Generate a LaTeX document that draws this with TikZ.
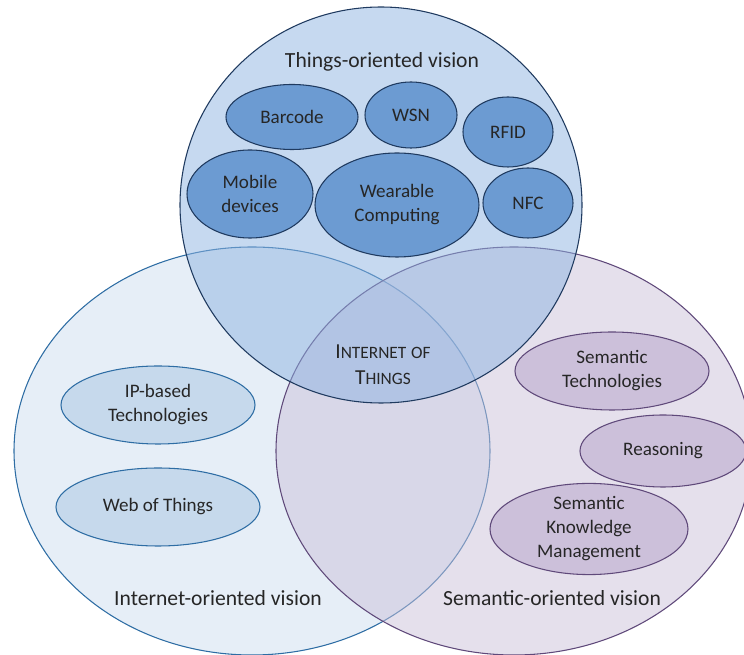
\documentclass[tikz,border=0pt]{standalone}
\usepackage{fontspec}
\setmainfont{Carlito}
\usetikzlibrary{shapes.geometric}
\definecolor{txt}{HTML}{262626}
\definecolor{topfill}{RGB}{141,179,225}
\definecolor{leftfill}{RGB}{205,221,239}
\definecolor{rightfill}{RGB}{203,193,217}
\definecolor{topdraw}{HTML}{1F3A5F}
\definecolor{leftdraw}{HTML}{2E6DA4}
\definecolor{rightdraw}{HTML}{5F497A}
\definecolor{inblue}{RGB}{108,155,210}
\definecolor{inlight}{RGB}{198,217,236}
\definecolor{inpurple}{RGB}{204,192,218}
\newcommand{\scaps}[2]{{\fontsize{16}{19.5}\selectfont #1}{\fontsize{13}{19.5}\selectfont #2}}
\newcommand{\smallcap}[1]{{\fontsize{13}{19.5}\selectfont #1}}
\tikzset{
  sz/.style 2 args={ellipse, inner sep=0pt, minimum width=#1*1.5pt, minimum height=#2*1.5pt},
  bigell/.style={ellipse, inner sep=0pt, line width=0.8pt, fill opacity=0.5},
  inell/.style={ellipse, inner sep=0pt, line width=0.8pt, align=center, text=txt,
    font=\fontsize{14.3}{18}\selectfont},
  tinner/.style={inell, draw=topdraw, fill=inblue},
  linner/.style={inell, draw=leftdraw, fill=inlight},
  rinner/.style={inell, draw=rightdraw, fill=inpurple},
  vislabel/.style={text=txt, font=\fontsize{16.2}{20}\selectfont, inner sep=0pt},
}
\begin{document}
\begin{tikzpicture}[x=0.75pt, y=-0.75pt]
\useasboundingbox (0,0) rectangle (744,655);
\clip (0,0) rectangle (744,655);
% big regions
\node[bigell, sz={238}{204}, draw=leftdraw, fill=leftfill] (internet) at (252,451) {};
\node[bigell, sz={238}{204}, draw=rightdraw, fill=rightfill] (semantic) at (514,451) {};
\node[bigell, sz={201}{198}, draw=topdraw, fill=topfill] (things) at (381,205) {};
% labels of visions
\node[vislabel] (thingslbl) at (382,62) {Things-oriented vision};
\node[vislabel] (internetlbl) at (218,598) {Internet-oriented vision};
\node[vislabel] (semanticlbl) at (552,598) {Semantic-oriented vision};
% things-oriented
\node[tinner, sz={66}{32.5}] (barcode) at (292,117) {Barcode};
\node[tinner, sz={46}{33}] (wsn) at (411,115) {WSN};
\node[tinner, sz={45}{35}] (rfid) at (508,132) {RFID};
\node[tinner, sz={63}{44}] (mobile) at (250,194) {Mobile\\devices};
\node[tinner, sz={82}{52}] (wearable) at (397,205) {Wearable\\Computing};
\node[tinner, sz={45}{35}] (nfc) at (528,203) {NFC};
% internet-oriented
\node[linner, sz={97}{39}] (ip) at (158,405) {IP-based\\Technologies};
\node[linner, sz={102}{39}] (wot) at (158,507) {Web of Things};
% semantic-oriented
\node[rinner, sz={97}{39}] (semtech) at (612,371) {Semantic\\Technologies};
\node[rinner, sz={83}{36}] (reason) at (663,451) {Reasoning};
\node[rinner, sz={99}{43}] (skm) at (589,529) {Semantic\\Knowledge\\Management};
% centre
\node[text=txt, align=center, inner sep=0pt, font=\fontsize{16}{19.5}\selectfont] (iot) at (383,365)
  {\scaps{I}{NTERNET} \smallcap{OF}\\\scaps{T}{HINGS}};
\end{tikzpicture}
\end{document}
